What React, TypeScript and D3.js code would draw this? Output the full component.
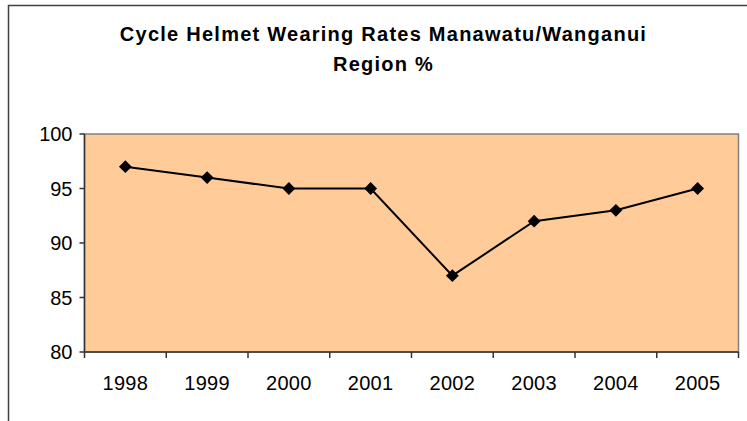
import React from "react";
import * as d3 from "d3";

const years = ["1998", "1999", "2000", "2001", "2002", "2003", "2004", "2005"];
const rates = [97, 96, 95, 95, 87, 92, 93, 95];
const yTicks = [80, 85, 90, 95, 100];
const titleLines = ["Cycle Helmet Wearing Rates Manawatu/Wanganui", "Region %"];

const W = 747;
const H = 421;
const plot = { left: 84.5, right: 738.5, top: 134, bottom: 352 };

export default function App() {
  const x = d3.scaleBand<string>().domain(years).range([plot.left, plot.right]);
  const y = d3.scaleLinear().domain([80, 100]).range([plot.bottom, plot.top]);
  const line = d3
    .line<number>()
    .x((_, i) => (x(years[i]) as number) + x.bandwidth() / 2)
    .y((d) => y(d));
  const diamond = d3.symbol().type(d3.symbolDiamond2).size(105)();
  const font = "Arial, 'Liberation Sans', sans-serif";
  const boundaries = years.map((yr) => x(yr) as number).concat([plot.right]);

  return (
    <svg
      width={W}
      height={H}
      style={{ position: "absolute", left: 0, top: 0, background: "#fff" }}
      fontFamily={font}
    >
      <rect x={8.5} y={5.5} width={W + 10} height={H + 10} fill="#fff" stroke="#404040" strokeWidth={1.5} />
      {titleLines.map((t, i) => (
        <text
          key={i}
          x={383.5}
          y={41 + i * 30}
          textAnchor="middle"
          fontSize={20}
          fontWeight="bold"
          letterSpacing={1.25}
          fill="#000"
        >
          {t}
        </text>
      ))}
      <rect
        x={plot.left}
        y={plot.top}
        width={plot.right - plot.left}
        height={plot.bottom - plot.top}
        fill="#FFCC99"
        stroke="#808080"
        strokeWidth={1.5}
      />
      {/* y axis */}
      <line x1={plot.left} x2={plot.left} y1={plot.top} y2={plot.bottom} stroke="#333" strokeWidth={1.5} />
      {yTicks.map((t) => (
        <g key={t}>
          <line x1={plot.left - 5} x2={plot.left} y1={y(t)} y2={y(t)} stroke="#333" strokeWidth={1.5} />
          <text x={plot.left - 12} y={y(t)} dy="0.36em" textAnchor="end" fontSize={20} fill="#000">
            {t}
          </text>
        </g>
      ))}
      {/* x axis */}
      <line x1={plot.left} x2={plot.right} y1={plot.bottom} y2={plot.bottom} stroke="#333" strokeWidth={1.5} />
      {boundaries.map((b, i) => (
        <line key={i} x1={b} x2={b} y1={plot.bottom} y2={plot.bottom + 6} stroke="#333" strokeWidth={1.5} />
      ))}
      {years.map((yr) => (
        <text
          key={yr}
          x={(x(yr) as number) + x.bandwidth() / 2}
          y={390}
          textAnchor="middle"
          fontSize={20}
          letterSpacing={0.3}
          fill="#000"
        >
          {yr}
        </text>
      ))}
      <path d={line(rates) || ""} fill="none" stroke="#000" strokeWidth={2} />
      {rates.map((v, i) => (
        <path
          key={i}
          d={diamond || ""}
          transform={`translate(${(x(years[i]) as number) + x.bandwidth() / 2},${y(v)})`}
          fill="#000"
        />
      ))}
    </svg>
  );
}
